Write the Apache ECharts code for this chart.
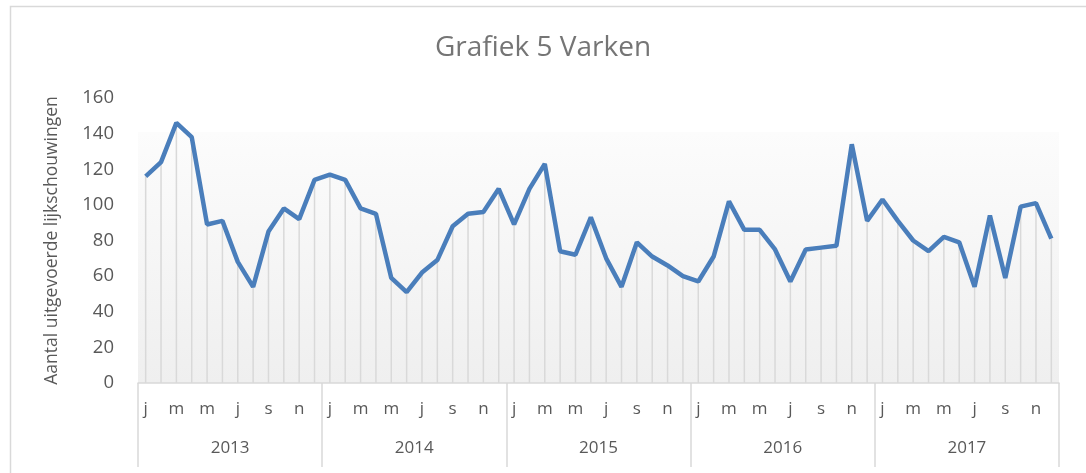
<!DOCTYPE html>
<html lang="nl">
<head>
    <meta charset="UTF-8">
    <title>Grafiek 5 Varken</title>
    <script type="text/javascript" src="https://cdn.jsdelivr.net/npm/echarts@6/dist/echarts.min.js"></script>
    <style type="text/css">
        html, body { margin: 0; padding: 0; background: #ffffff; }
        #main { width: 1086px; height: 473px; }
    </style>
</head>
<body>
<div id="main"></div>
<script type="text/javascript">
    // maandletters (j f m a m j j a s o n d) en jaren
    var months = ['j', 'f', 'm', 'a', 'm', 'j', 'j', 'a', 's', 'o', 'n', 'd'];
    var years = ['2013', '2014', '2015', '2016', '2017'];

    // aantal lijkschouwingen per maand
    var v2013 = [116, 124, 146, 138, 89, 91, 68, 54, 85, 98, 92, 114];
    var v2014 = [117, 114, 98, 95, 59, 51, 62, 69, 88, 95, 96, 109];
    var v2015 = [89, 109, 123, 74, 72, 93, 70, 54, 79, 71, 66, 60];
    var v2016 = [57, 71, 102, 86, 86, 75, 57, 75, 76, 77, 134, 91];
    var v2017 = [103, 91, 80, 74, 82, 79, 54, 94, 59, 99, 101, 81];

    var yTicks = [0, 20, 40, 60, 80, 100, 120, 140, 160];

    var categories = [];
    years.forEach(function () {
        months.forEach(function (m) { categories.push(m); });
    });
    var values = [].concat(v2013, v2014, v2015, v2016, v2017);

    var chart = echarts.init(document.getElementById('main'));
    var textColor = '#595959';
    var lineGray = '#d9d9d9';

    chart.setOption({
        animation: false,
        title: {
            text: 'Grafiek 5 Varken',
            left: 'center',
            top: 29,
            textStyle: {
                fontFamily: 'Open Sans',
                fontSize: 28,
                fontWeight: 'normal',
                color: '#757575'
            }
        },
        graphic: [{
            type: 'rect',
            shape: { x: 10.5, y: 6.5, width: 1200, height: 600 },
            style: { fill: 'none', stroke: lineGray, lineWidth: 1.5 },
            silent: true
        }],
        grid: {
            left: 138,
            right: 27,
            top: 98,
            bottom: 90,
            show: true,
            borderWidth: 0,
            backgroundColor: {
                type: 'linear', x: 0, y: 0, x2: 0, y2: 1,
                colorStops: [
                    { offset: 0, color: '#ffffff' },
                    { offset: 0.118, color: '#ffffff' },
                    { offset: 0.12, color: '#fcfcfc' },
                    { offset: 1, color: '#efefef' }
                ]
            }
        },
        xAxis: [{
            type: 'category',
            data: categories,
            boundaryGap: true,
            axisLine: { lineStyle: { color: lineGray, width: 1.5 } },
            axisTick: { show: false },
            axisLabel: {
                interval: 1,
                margin: 18,
                color: textColor,
                fontFamily: 'Open Sans',
                fontSize: 17
            }
        }, {
            type: 'category',
            data: years,
            position: 'bottom',
            boundaryGap: true,
            axisLine: { show: false },
            axisTick: {
                show: true,
                interval: 0,
                length: 84,
                lineStyle: { color: lineGray, width: 1.5 }
            },
            axisLabel: {
                margin: 57,
                color: textColor,
                fontFamily: 'Open Sans',
                fontSize: 17
            }
        }],
        yAxis: {
            type: 'value',
            min: yTicks[0],
            max: yTicks[yTicks.length - 1],
            interval: 20,
            name: 'Aantal uitgevoerde lijkschouwingen',
            nameLocation: 'middle',
            nameGap: 77,
            nameTextStyle: {
                color: textColor,
                fontFamily: 'Open Sans',
                fontSize: 17.5
            },
            axisLine: { show: false },
            axisTick: { show: false },
            splitLine: { show: false },
            axisLabel: {
                margin: 24,
                color: textColor,
                fontFamily: 'Open Sans',
                fontSize: 18.5
            }
        },
        series: [{
            // vallijnen
            name: 'drop',
            type: 'bar',
            data: values,
            barWidth: 1.5,
            itemStyle: { color: lineGray },
            z: 1,
            silent: true
        }, {
            name: 'Varken',
            type: 'line',
            data: values,
            symbol: 'none',
            lineStyle: { color: '#4a7ebb', width: 4.5 },
            z: 3
        }]
    });
</script>
</body>
</html>
